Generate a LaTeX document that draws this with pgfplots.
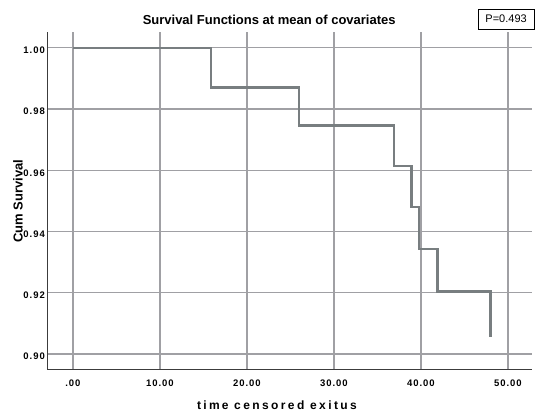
\documentclass[border=0pt]{standalone}
\usepackage{pgfplots}
\pgfplotsset{compat=1.18}
\usepackage{fontspec}
\setmainfont{Liberation Sans}
\newfontfamily\tickfont[LetterSpace=10]{Liberation Sans}
\newfontfamily\xlabfont[LetterSpace=20]{Liberation Sans}
\definecolor{gridc}{RGB}{160,160,164}
\definecolor{linec}{RGB}{120,126,128}
\definecolor{axisc}{RGB}{60,60,60}
\begin{document}
\begin{tikzpicture}
\useasboundingbox (-48pt,-41pt) rectangle (487pt,370pt);
\begin{axis}[
  at={(0,0)}, anchor=south west,
  scale only axis,
  width=484pt, height=338pt,
  xmin=-2.87, xmax=52.76,
  ymin=0.8948, ymax=1.00513,
  axis lines*=left,
  axis line style={axisc, line width=1pt},
  xtick={0,10,20,30,40,50},
  xticklabels={.00,10.00,20.00,30.00,40.00,50.00},
  ytick={0.90,0.92,0.94,0.96,0.98,1.00},
  yticklabels={0.90,0.92,0.94,0.96,0.98,1.00},
  major tick length=0pt,
  grid=major,
  major grid style={gridc, line width=1.3pt},
  xticklabel style={font=\tickfont\bfseries\fontsize{9.5}{10}\selectfont, anchor=north, inner sep=0pt, yshift=-10pt},
  yticklabel style={font=\tickfont\bfseries\fontsize{9.5}{10}\selectfont, anchor=east, inner sep=0pt, xshift=-3pt, yshift=-2.5pt},
  every axis x label/.style={at={(axis description cs:0.473,0)}, yshift=-35pt, anchor=center},
  every axis y label/.style={at={(axis description cs:0,0.5)}, xshift=-30pt, rotate=90, anchor=center},
  xlabel={\xlabfont\bfseries\fontsize{12}{13}\selectfont tim\kern2pt e censored exitus},
  ylabel={\bfseries\fontsize{13}{14}\selectfont Cum Survival},
  clip=false,
]
\addplot[const plot, color=linec, line width=2.3pt] table {
x y
0 1.0
15.9 0.987
26.0 0.9746
36.9 0.9614
38.9 0.948
39.8 0.9343
41.9 0.9204
48.0 0.9057
};
\node[anchor=base, font=\bfseries\fontsize{13}{14}\selectfont] at (rel axis cs:0.457,1) [yshift=7pt] {Survival Functions at mean of covariates};
\node[anchor=west, draw=black, line width=0.6pt, inner xsep=2pt, minimum height=20pt, minimum width=56pt, font=\fontsize{11}{12}\selectfont] at (rel axis cs:0.888,1) [yshift=13pt] {P=0.493};
\end{axis}
\end{tikzpicture}
\end{document}
